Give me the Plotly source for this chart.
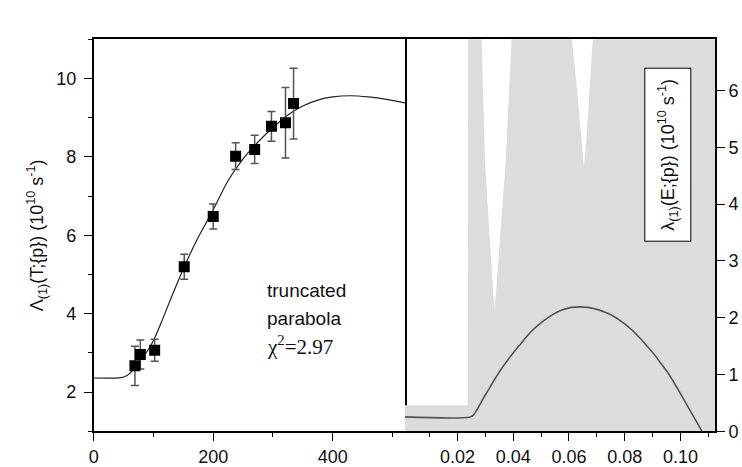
import plotly.graph_objects as go

# ---- data ----
# left panel: measured points with error bars
T_pts = [69, 78, 102, 151.5, 200, 237.5, 269.4, 297.5, 321, 334.5]
L_pts = [2.67, 2.96, 3.07, 5.2, 6.48, 8.02, 8.19, 8.78, 8.87, 9.36]
L_err = [0.5, 0.37, 0.28, 0.32, 0.32, 0.34, 0.36, 0.38, 0.9, 0.9]

# left panel: fitted curve
fit_T = [0, 45, 55, 65, 80, 92, 102, 115, 130, 151.5, 175, 200, 225, 250, 275, 300,
         325, 350, 375, 400, 430, 460, 490, 521]
fit_L = [2.36, 2.37, 2.42, 2.55, 2.85, 3.1, 3.38, 3.85, 4.42, 5.2, 5.95, 6.65, 7.4, 7.95,
         8.38, 8.75, 9.07, 9.3, 9.45, 9.53, 9.56, 9.53, 9.47, 9.38]

# right panel: lambda(E) curve
E_line = [0.0012, 0.0246, 0.0258, 0.030, 0.0359, 0.042, 0.0478, 0.0572, 0.0644,
          0.0739, 0.080, 0.0857, 0.0952, 0.1023, 0.1077]
lam_line = [0.254, 0.254, 0.29, 0.64, 1.11, 1.50, 1.82, 2.13, 2.19,
            2.08, 1.89, 1.63, 1.05, 0.46, 0.0]

# right panel: grey band (upper bound)
band_E = [0.0012, 0.0237, 0.0239, 0.0285, 0.0287, 0.0299, 0.0314, 0.0333, 0.0355, 0.0373,
          0.0394, 0.0396, 0.0608, 0.0610, 0.0631, 0.0645, 0.0653, 0.0662, 0.0673, 0.0685,
          0.0687, 0.1124]
band_hi = [0.46, 0.46, 9, 9, 6.91, 4.74, 3.56, 2.11, 3.56, 4.74, 6.91, 9, 9, 6.91, 5.91,
           5.1, 4.67, 5.1, 5.91, 6.91, 9, 9]

FONT = "Liberation Sans, Arial, sans-serif"

fig = go.Figure()

fig.add_trace(go.Scatter(x=band_E, y=band_hi, mode="lines", line=dict(width=0),
                         fill="tozeroy", fillcolor="#dcdcdc", xaxis="x2", yaxis="y2",
                         showlegend=False))
fig.add_trace(go.Scatter(x=E_line, y=lam_line, mode="lines",
                         line=dict(color="#555555", width=1.6, shape="spline", smoothing=0.9),
                         xaxis="x2", yaxis="y2", showlegend=False))

fig.add_trace(go.Scatter(x=fit_T, y=fit_L, mode="lines",
                         line=dict(color="#222222", width=1.2, shape="spline", smoothing=0.8),
                         xaxis="x", yaxis="y", showlegend=False))
fig.add_trace(go.Scatter(x=T_pts, y=L_pts, mode="markers",
                         marker=dict(symbol="square", size=11, color="black"),
                         error_y=dict(type="data", array=L_err, visible=True,
                                      color="#555555", thickness=1.5, width=4),
                         xaxis="x", yaxis="y", showlegend=False))

xd1 = [0.1204, 0.5427]
xd2 = [0.5427, 0.9636]
yd = [0.052, 0.9136]

common = dict(showgrid=False, zeroline=False, showline=True, linecolor="black",
              linewidth=1.5, ticks="outside", ticklen=8, tickwidth=1.2, tickcolor="black",
              tickfont=dict(family=FONT, size=18, color="#111111"))

fig.update_layout(
    width=742, height=467,
    margin=dict(l=0, r=0, t=0, b=0),
    paper_bgcolor="white", plot_bgcolor="white",
    xaxis=dict(domain=xd1, range=[0, 521], anchor="y", tick0=0, dtick=200, mirror=True,
               minor=dict(dtick=100, ticklen=4, ticks="outside", tickcolor="black"),
               **common),
    yaxis=dict(domain=yd, range=[1, 11], anchor="x", tick0=0, dtick=2, mirror=True,
               minor=dict(dtick=1, ticklen=4, ticks="outside", tickcolor="black"),
               ticklabelstandoff=4,
               title=dict(text="Λ<sub>(1)</sub>(T;{p}) (10<sup>10</sup> s<sup>-1</sup>)",
                          font=dict(family=FONT, size=18, color="#111111"), standoff=8),
               **common),
    xaxis2=dict(domain=xd2, range=[0.0012, 0.1124], anchor="y2", tick0=0, dtick=0.02,
                tickformat=".2f", mirror=True,
                minor=dict(dtick=0.01, ticklen=4, ticks="outside", tickcolor="black"),
                **common),
    yaxis2=dict(domain=yd, range=[0, 6.9], anchor="x2", side="right", tick0=0, dtick=1,
                mirror=False, **common),
    annotations=[
        dict(text="truncated", x=286, y=4.58, xref="x", yref="y", xanchor="left",
             yanchor="middle", showarrow=False, font=dict(family=FONT, size=19, color="#111111")),
        dict(text="parabola", x=286, y=3.89, xref="x", yref="y", xanchor="left",
             yanchor="middle", showarrow=False, font=dict(family=FONT, size=19, color="#111111")),
        dict(text="χ<sup>2</sup>=2.97", x=286, y=3.2, xref="x", yref="y", xanchor="left",
             yanchor="middle", showarrow=False,
             font=dict(family="Liberation Serif, Times New Roman, serif", size=21, color="#111111")),
        dict(text="λ<sub>(1)</sub>(E;{p}) (10<sup>10</sup> s<sup>-1</sup>)",
             x=0.8996, y=0.66, xref="paper", yref="paper", xanchor="center", yanchor="middle",
             textangle=-90, showarrow=False, bgcolor="white", bordercolor="black",
             borderwidth=1, borderpad=10, font=dict(family=FONT, size=18, color="#111111")),
    ],
)

fig.write_html("out.html")
